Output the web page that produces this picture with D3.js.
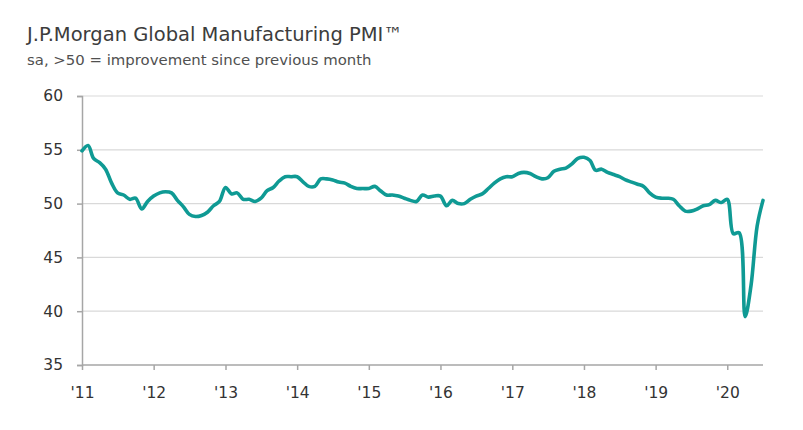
<!DOCTYPE html>
<html>
<head>
<meta charset="utf-8">
<script src="https://cdn.jsdelivr.net/npm/d3@7"></script>
<style>
  html, body { margin: 0; padding: 0; background: #fff; }
  svg { display: block; }
  text { font-family: "DejaVu Sans", "Open Sans", sans-serif; }
</style>
</head>
<body>
<svg id="chart" width="803" height="430"></svg>
<script>
// ---- data ----
const title = "J.P.Morgan Global Manufacturing PMI\u2122";
const subtitle = "sa, >50 = improvement since previous month";
const startMonth = "2011-01";
const pmiValues = [
  // 2011
  54.9, 55.4, 54.2, 53.8, 53.2, 51.9, 51.0, 50.8, 50.4, 50.5, 49.5, 50.2,
  // 2012
  50.7, 51.0, 51.1, 51.0, 50.3, 49.7, 49.0, 48.8, 48.9, 49.2, 49.8, 50.2,
  // 2013
  51.5, 50.9, 51.0, 50.4, 50.4, 50.2, 50.5, 51.2, 51.5, 52.1, 52.5, 52.5,
  // 2014
  52.5, 52.0, 51.6, 51.6, 52.3, 52.3, 52.2, 52.0, 51.9, 51.6, 51.4, 51.4,
  // 2015
  51.4, 51.6, 51.2, 50.8, 50.8, 50.7, 50.5, 50.3, 50.2, 50.8, 50.6, 50.7,
  // 2016
  50.7, 49.8, 50.3, 50.0, 50.0, 50.4, 50.7, 50.9, 51.4, 51.9, 52.3, 52.5,
  // 2017
  52.5, 52.8, 52.9, 52.8, 52.5, 52.3, 52.4, 53.0, 53.2, 53.3, 53.7, 54.2,
  // 2018
  54.3, 54.0, 53.1, 53.2, 52.9, 52.7, 52.5, 52.2, 52.0, 51.8, 51.6, 51.0,
  // 2019
  50.6, 50.5, 50.5, 50.4, 49.8, 49.3, 49.3, 49.5, 49.8, 49.9, 50.3, 50.1,
  // 2020
  50.4, 47.2, 47.3, 39.5, 42.4, 47.9, 50.3
];
const yTicks = [35, 40, 45, 50, 55, 60];
const yearTickLabels = ["'11","'12","'13","'14","'15","'16","'17","'18","'19","'20"];

// ---- build ----
const parse = d3.timeParse("%Y-%m");
const start = parse(startMonth);
const data = pmiValues.map((v, i) => ({ date: d3.timeMonth.offset(start, i), value: v }));
const yearDates = yearTickLabels.map(l => new Date(2000 + (+l.slice(1)), 0, 1));

const svg = d3.select("#chart");
const FONT = "'DejaVu Sans', 'Open Sans', sans-serif";

const x = d3.scaleTime()
  .domain([data[0].date, data[data.length - 1].date])
  .range([82, 763]);
const y = d3.scaleLinear().domain([35, 60]).range([365, 96]);

// title
svg.append("text").attr("x", 27).attr("y", 41)
  .attr("font-size", 19.5).attr("fill", "#3c3c3c").text(title);
svg.append("text").attr("x", 27).attr("y", 65)
  .attr("font-size", 14.9).attr("fill", "#505050").text(subtitle);

// gridlines
svg.append("g").selectAll("line").data(yTicks.filter(t => t !== 35)).join("line")
  .attr("x1", 82).attr("x2", 763)
  .attr("y1", d => y(d)).attr("y2", d => y(d))
  .attr("stroke", "#d9d9d9").attr("stroke-width", 1.2);

// y axis
const yAxis = svg.append("g").attr("transform", "translate(82,0)")
  .call(d3.axisLeft(y).tickValues(yTicks).tickSize(5).tickPadding(14).tickFormat(d3.format("d")));
yAxis.select(".domain").attr("stroke", "#a6a6a6").attr("stroke-width", 1.5);
yAxis.selectAll(".tick line").attr("stroke", "#a6a6a6").attr("stroke-width", 1.5);
yAxis.selectAll(".tick text").attr("font-size", 15.5).attr("fill", "#333")
  .attr("font-family", FONT);

// x axis
const xAxis = svg.append("g").attr("transform", `translate(0,${y(35)})`)
  .call(d3.axisBottom(x).tickValues(yearDates).tickSize(5).tickPadding(17)
    .tickFormat((d, i) => yearTickLabels[i]));
xAxis.select(".domain").attr("stroke", "#a6a6a6").attr("stroke-width", 1.5)
  .attr("d", "M82,0H763");
xAxis.selectAll(".tick line").attr("stroke", "#a6a6a6").attr("stroke-width", 1.5);
xAxis.selectAll(".tick text").attr("font-size", 15.5).attr("fill", "#333")
  .attr("font-family", FONT);

// line
const line = d3.line()
  .x(d => x(d.date)).y(d => y(d.value))
  .curve(d3.curveCatmullRom.alpha(0.5));
svg.append("path").datum(data)
  .attr("fill", "none").attr("stroke", "#0f9a94")
  .attr("stroke-width", 3.6).attr("stroke-linejoin", "round").attr("stroke-linecap", "round")
  .attr("d", line);
</script>
</body>
</html>
